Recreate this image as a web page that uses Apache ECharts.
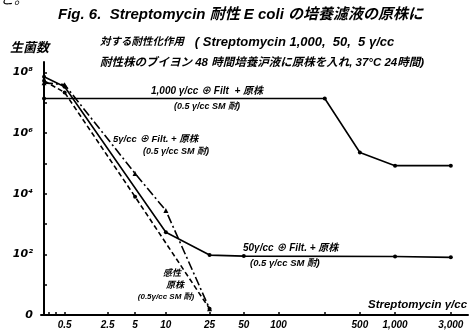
<!DOCTYPE html>
<html><head><meta charset="utf-8">
<script src="https://cdn.jsdelivr.net/npm/echarts@6/dist/echarts.min.js"></script>
<style>html,body{margin:0;padding:0;background:#fff}#c{width:473px;height:332px}</style>
</head><body><div id="c"></div>
<script>
// ---- data (concentration in γ/cc, viable count) ----
const xTickValues = [0.1, 0.25, 0.5, 2.5, 5, 10, 25, 50, 100, 250, 500, 1000, 3000];
const xLabelValues = [0.5, 2.5, 5, 10, 25, 50, 100, 500, 1000, 3000];
const xLabelTexts = ['0.5', '2.5', '5', '10', '25', '50', '100', '500', '1,000', '3,000'];
const yLabelExps = [0, 2, 4, 6, 8];

const conc1000 = [0, 250, 500, 1000, 3000];
const count1000 = [1.4e7, 1.4e7, 2.3e5, 8.5e4, 8.5e4];

const conc50 = [0, 0.5, 10, 25, 50, 1000, 3000];
const count50 = [7.3e7, 3.4e7, 5.4e2, 95, 88, 85, 80];

const concSens = [0, 0.5, 5, 25];
const countSens = [5.4e7, 2.2e7, 8e3, 1.6];

const conc5 = [0, 0.5, 5, 10, 25];
const count5 = [4.6e7, 4.0e7, 4.7e4, 2.8e3, 1.6];

// x axis of the original is drawn on a log(c+1) scale
const xs = c => Math.log10(c + 1);
const pts = (cs, vs) => cs.map((c, i) => [xs(c), vs[i]]);

const CJK = "'Liberation Sans','Noto Sans CJK JP'";
const sup = {0:'⁰',1:'¹',2:'²',3:'³',4:'⁴',5:'⁵',6:'⁶',7:'⁷',8:'⁸',9:'⁹'};

const chart = echarts.init(document.getElementById('c'), null, {renderer: 'canvas'});
const lineStyleBase = {color: '#000', width: 1.6};
function font(size, weight) { return 'italic ' + (weight || 'bold') + ' ' + size + 'px ' + CJK; }
function txt(text, x, y, size, align, weight) {
  return {type: 'text', x: x, y: y, silent: true,
    style: {text: text, fill: '#000', font: font(size, weight),
      align: align || 'left', textAlign: align || 'left', verticalAlign: 'middle', textVerticalAlign: 'middle'}};
}
function rich(parts, x, y) {
  const r = {};
  let s = '';
  parts.forEach((p, i) => {
    r['p' + i] = {fontSize: p[1], fontStyle: 'italic', fontWeight: 'bold', fontFamily: CJK, fill: '#000', color: '#000'};
    s += '{p' + i + '|' + p[0] + '}';
  });
  return {type: 'text', x: x, y: y, silent: true,
    style: {text: s, rich: r, fill: '#000', align: 'left', textAlign: 'left', verticalAlign: 'middle', textVerticalAlign: 'middle'}};
}
chart.setOption({
  animation: false,
  backgroundColor: '#fff',
  grid: {left: 41, right: 5, top: 62, bottom: 17, containLabel: false},
  xAxis: {
    type: 'value', min: -0.026, max: 3.624,
    axisLine: {lineStyle: {color: '#000', width: 2}},
    splitLine: {show: false},
    axisTick: {inside: true, length: 3, lineStyle: {color: '#000', width: 1.5}, customValues: xTickValues.map(xs)},
    axisLabel: {
      margin: 5, color: '#000', fontSize: 10, fontStyle: 'italic', fontWeight: 'bold', fontFamily: CJK,
      customValues: xLabelValues.map(xs),
      formatter: v => {
        let best = 0, bd = 1e9;
        xLabelValues.forEach((c, i) => { const d = Math.abs(xs(c) - v); if (d < bd) { bd = d; best = i; } });
        return xLabelTexts[best];
      }
    }
  },
  yAxis: {
    type: 'log', logBase: 10, min: 1, max: 2.24e8, splitNumber: 8,
    axisLine: {show: true, lineStyle: {color: '#000', width: 2}},
    splitLine: {show: false},
    axisTick: {show: true, inside: true, length: 3, lineStyle: {color: '#000', width: 1.5}},
    axisLabel: {
      margin: 8, color: '#000', fontSize: 11, fontStyle: 'italic', fontWeight: 'bold', fontFamily: "'DejaVu Sans'",
      formatter: v => {
        const e = Math.round(Math.log10(v));
        if (yLabelExps.indexOf(e) < 0) return '';
        if (e === 0) return '0';
        return '10' + sup[e];
      }
    }
  },
  series: [
    {type: 'line', data: pts(conc1000, count1000), symbol: 'circle', symbolSize: 4,
      itemStyle: {color: '#000'}, lineStyle: Object.assign({}, lineStyleBase)},
    {type: 'line', data: pts(conc50, count50), symbol: 'circle', symbolSize: 4,
      itemStyle: {color: '#000'}, lineStyle: Object.assign({}, lineStyleBase)},
    {type: 'line', data: pts(concSens, countSens), symbol: 'circle', symbolSize: 4,
      itemStyle: {color: '#000'}, lineStyle: Object.assign({}, lineStyleBase, {type: [5, 3]})},
    {type: 'line', data: pts(conc5, count5), symbol: 'triangle', symbolSize: 5,
      itemStyle: {color: '#000'}, lineStyle: Object.assign({}, lineStyleBase, {type: [9, 3, 2, 3]})}
  ],
  graphic: [
    txt('と。', 0, 0, 14, 'left', 'normal'),
    txt('Fig. 6.  Streptomycin 耐性 E coli の培養濾液の原株に', 58, 15, 15),
    rich([['対する耐性化作用', 10.5], ['   ( Streptomycin 1,000,  50,  5 γ/cc', 13]], 100, 42),
    txt('耐性株のブイヨン 48 時間培養沪液に原株を入れ, 37°C 24時間)', 100, 63, 11.5),
    txt('生菌数', 10, 48, 13),
    txt('1,000 γ/cc ⊕ Filt  + 原株', 207, 91, 10, 'center'),
    txt('(0.5 γ/cc SM 耐)', 207, 107, 9, 'center'),
    txt('5γ/cc ⊕ Filt. + 原株', 113, 139, 9.5),
    txt('(0.5 γ/cc SM 耐)', 143, 152, 9),
    txt('50γ/cc ⊕ Filt. + 原株', 243, 248, 10),
    txt('(0.5 γ/cc SM 耐)', 250, 263, 9.5),
    txt('感性', 172, 274, 9, 'center'),
    txt('原株', 175, 286, 9, 'center'),
    txt('(0.5γ/cc SM 耐)', 166, 297, 8, 'center'),
    txt('Streptomycin γ/cc', 368, 305, 11.5)
  ]
});
</script></body></html>
